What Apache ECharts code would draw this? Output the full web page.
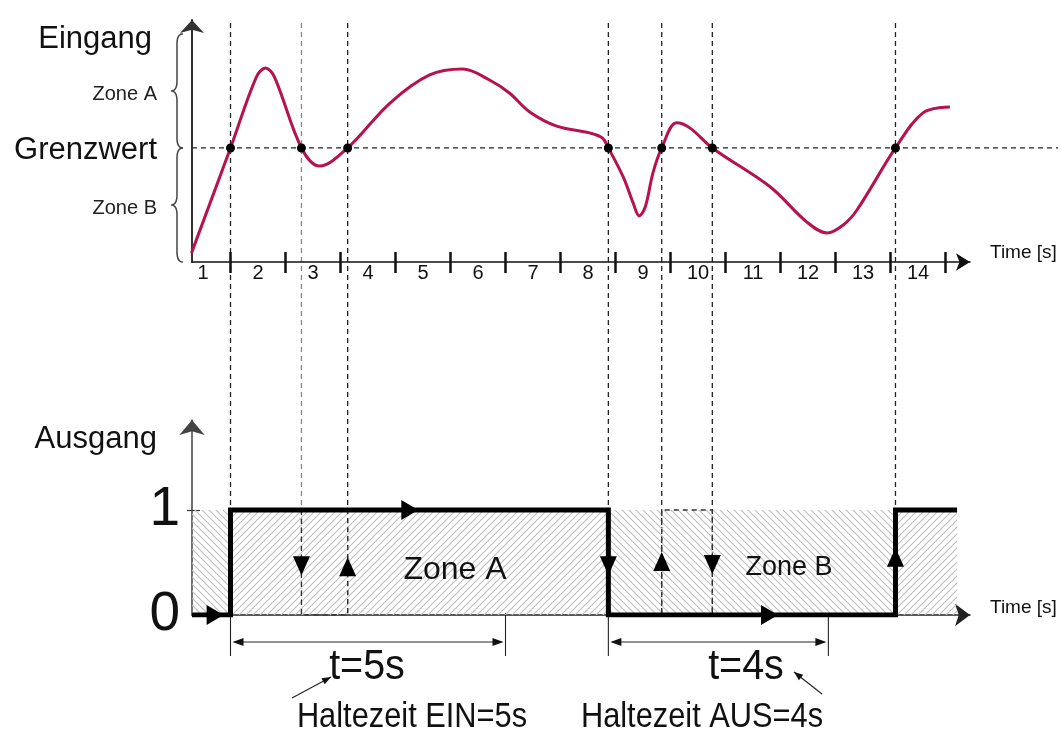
<!DOCTYPE html>
<html>
<head>
<meta charset="utf-8">
<script src="https://cdn.jsdelivr.net/npm/echarts@6/dist/echarts.min.js"></script>
<style>
  html, body { margin: 0; padding: 0; background: #fff; }
  #chart { width: 1061px; height: 733px; }
</style>
</head>
<body>
<div id="chart"></div>
<script>
var FONT = '"Liberation Sans", Arial, sans-serif';

// time axis: label n sits inside its second, ticks on the boundaries
var timeLabels = [1, 2, 3, 4, 5, 6, 7, 8, 9, 10, 11, 12, 13, 14];
var timeTicks = [1.5, 2.5, 3.5, 4.5, 5.5, 6.5, 7.5, 8.5, 9.5, 10.5, 11.5, 12.5, 13.5, 14.5];
var xMin = 0.8, xMax = 14.945;

// input (Eingang)
var inputMax = 10.61;
var threshold = 5;      // Grenzwert
var zoneTop = 10;
var inputCurve = [
  [0.79, 0.39], [1.5, 5], [1.97, 8.11], [2.14, 8.51], [2.3, 8.11], [2.79, 5],
  [3.12, 4.21], [3.63, 5], [4.4, 6.97], [5.12, 8.2], [5.72, 8.46], [6.21, 7.98],
  [6.57, 7.41], [6.94, 6.58], [7.43, 5.96], [8.03, 5.66], [8.26, 5.44], [8.37, 5],
  [8.64, 3.73], [8.82, 2.59], [8.93, 2.02], [9.04, 2.41], [9.18, 3.9], [9.34, 5],
  [9.61, 6.1], [9.85, 5.88], [10.26, 5], [11.31, 3.3], [11.98, 1.75], [12.35, 1.27],
  [12.64, 1.62], [12.89, 2.28], [13.59, 5], [14.09, 6.54], [14.58, 6.8]
];
var crossings = [1.5, 2.79, 3.63, 8.37, 9.34, 10.26, 13.59];

// output (Ausgang)
var outputMax = 1.857;
var outputStep = [[0.8, 0], [1.5, 0], [1.5, 1], [8.37, 1], [8.37, 0], [13.59, 0], [13.59, 1], [14.71, 1]];
var ignoredOff = [[2.79, 1], [2.79, 0], [3.63, 0], [3.63, 1]];
var ignoredOn = [[9.34, 0], [9.34, 1], [10.26, 1], [10.26, 0]];
var arrowsRight = [[1.22, 0], [4.76, 1], [11.3, 0]];
var arrowsDown = [[8.37, 0.47], [2.79, 0.47], [10.26, 0.48]];
var arrowsUp = [[13.59, 0.55], [3.63, 0.46], [9.34, 0.51]];
var holdOn = { from: 1.5, len: 5, label: 't=5s', note: 'Haltezeit EIN=5s' };
var holdOff = { from: 8.37, len: 4, label: 't=4s', note: 'Haltezeit AUS=4s' };

function hatch(dir) {
  var s = 7;
  var c = document.createElement('canvas');
  c.width = c.height = s;
  var g = c.getContext('2d');
  g.strokeStyle = '#c0c0c0';
  g.lineWidth = 1.2;
  g.beginPath();
  if (dir > 0) {
    g.moveTo(-1, s + 1); g.lineTo(s + 1, -1);
    g.moveTo(-1, 1); g.lineTo(1, -1);
    g.moveTo(s - 1, s + 1); g.lineTo(s + 1, s - 1);
  } else {
    g.moveTo(-1, -1); g.lineTo(s + 1, s + 1);
    g.moveTo(s - 1, -1); g.lineTo(s + 1, 1);
    g.moveTo(-1, s - 1); g.lineTo(1, s + 1);
  }
  g.stroke();
  return { image: c, repeat: 'repeat' };
}
var hatchOn = hatch(1), hatchOff = hatch(-1);

var hatchAreas = [];
for (var i = 0; i + 1 < outputStep.length; i++) {
  var a = outputStep[i], b = outputStep[i + 1];
  if (a[1] === b[1] && b[0] > a[0]) {
    hatchAreas.push([
      { xAxis: a[0], yAxis: 0, itemStyle: { color: a[1] ? hatchOn : hatchOff } },
      { xAxis: b[0], yAxis: 1 }
    ]);
  }
}

var chart = echarts.init(document.getElementById('chart'));

var option = {
  animation: false,
  grid: [
    { left: 192, right: 91, top: 20, bottom: 471, outerBoundsMode: 'none' },
    { left: 192, right: 91, top: 420, bottom: 118, outerBoundsMode: 'none' }
  ],
  xAxis: [
    {
      gridIndex: 0, type: 'value', position: 'bottom', min: xMin, max: xMax,
      axisLine: { symbol: ['none', 'arrow'], symbolSize: [13, 14], lineStyle: { color: '#111', width: 1.5 } },
      axisTick: { customValues: timeTicks, length: 11, lineStyle: { color: '#111', width: 2.5 } },
      axisLabel: { customValues: timeLabels, color: '#111', fontSize: 20, fontFamily: FONT, margin: 1 },
      splitLine: { show: false },
      name: 'Time [s]', nameLocation: 'end', nameGap: 20,
      nameTextStyle: { color: '#111', fontSize: 19, fontFamily: FONT, verticalAlign: 'bottom', padding: [0, 0, 0, 0] }
    },
    {
      gridIndex: 0, type: 'value', position: 'bottom', min: xMin, max: xMax,
      axisLine: { show: false },
      axisTick: { inside: true, customValues: timeTicks, length: 10, lineStyle: { color: '#111', width: 2.5 } },
      axisLabel: { show: false },
      splitLine: { show: false }
    },
    {
      gridIndex: 1, type: 'value', position: 'bottom', min: xMin, max: xMax,
      axisLine: { symbol: ['none', 'arrow'], symbolSize: [17, 15], lineStyle: { color: '#222', width: 1.5 } },
      axisTick: { show: false },
      axisLabel: { show: false },
      splitLine: { show: false },
      name: 'Time [s]', nameLocation: 'end', nameGap: 20,
      nameTextStyle: { color: '#111', fontSize: 19, fontFamily: FONT, verticalAlign: 'bottom', padding: [0, 0, -2, 0] }
    }
  ],
  yAxis: [
    {
      gridIndex: 0, type: 'value', position: 'left', min: 0, max: inputMax,
      axisLine: { symbol: ['none', 'arrow'], symbolSize: [18, 13], lineStyle: { color: '#333', width: 2 } },
      axisTick: { show: false },
      axisLabel: {
        customValues: [threshold / 2, threshold, (threshold + zoneTop) / 2],
        margin: 35,
        formatter: function (v) {
          if (v === threshold) return '{big|Grenzwert}';
          return '{small|' + (v > threshold ? 'Zone A' : 'Zone B') + '}';
        },
        rich: {
          big: { fontSize: 31, color: '#111', fontFamily: FONT, padding: [5, 0, 0, 0] },
          small: { fontSize: 20, color: '#222', fontFamily: FONT, padding: [8, 0, 0, 0] }
        }
      },
      splitLine: { show: false },
      name: 'Eingang', nameLocation: 'end', nameGap: -19,
      nameTextStyle: { color: '#111', fontSize: 31, fontFamily: FONT, align: 'right', verticalAlign: 'middle', padding: [0, 40, 0, 0] }
    },
    {
      gridIndex: 1, type: 'value', position: 'left', min: 0, max: outputMax,
      axisLine: { symbol: ['none', 'arrow'], symbolSize: [19, 15], lineStyle: { color: '#444', width: 1.5 } },
      axisTick: { customValues: [1], length: 5, lineStyle: { color: '#333', width: 1.2 } },
      axisLabel: { customValues: [0, 1], color: '#111', fontSize: 55, fontFamily: FONT, margin: 12, padding: [10, 0, 0, 0] },
      splitLine: { show: false },
      name: 'Ausgang', nameLocation: 'end', nameGap: -19,
      nameTextStyle: { color: '#111', fontSize: 31, fontFamily: FONT, align: 'right', verticalAlign: 'middle', padding: [0, 35, 0, 0] }
    },
    {
      gridIndex: 1, type: 'value', position: 'left', min: 0, max: outputMax,
      axisLine: { show: false },
      axisTick: { inside: true, customValues: [1], length: 8, lineStyle: { color: '#333', width: 1.2 } },
      axisLabel: { show: false },
      splitLine: { show: false }
    }
  ],
  series: [
    {
      name: 'Eingang', type: 'line', xAxisIndex: 0, yAxisIndex: 0,
      data: inputCurve, smooth: 0.35, showSymbol: false,
      lineStyle: { color: '#B5124F', width: 3 }, z: 3
    },
    {
      type: 'scatter', xAxisIndex: 0, yAxisIndex: 0,
      data: crossings.map(function (t) { return [t, threshold]; }),
      symbolSize: 9, itemStyle: { color: '#000', opacity: 1 }, z: 4
    },
    {
      name: 'Ausgang', type: 'line', xAxisIndex: 2, yAxisIndex: 1,
      data: outputStep, showSymbol: false,
      lineStyle: { color: '#000', width: 5, join: 'miter', cap: 'butt' },
      markArea: { silent: true, data: hatchAreas }, z: 3
    },
    {
      type: 'line', xAxisIndex: 2, yAxisIndex: 1, data: ignoredOff, showSymbol: false,
      lineStyle: { color: '#333', width: 1.3, type: [5, 4] }, z: 2
    },
    {
      type: 'line', xAxisIndex: 2, yAxisIndex: 1, data: ignoredOn, showSymbol: false,
      lineStyle: { color: '#333', width: 1.3, type: [5, 4] }, z: 2
    },
    {
      type: 'scatter', xAxisIndex: 2, yAxisIndex: 1, data: arrowsRight,
      symbol: 'triangle', symbolRotate: -90, symbolSize: [20, 17], itemStyle: { color: '#000', opacity: 1 }, z: 5
    },
    {
      type: 'scatter', xAxisIndex: 2, yAxisIndex: 1, data: arrowsDown,
      symbol: 'triangle', symbolRotate: 180, symbolSize: [17, 19], itemStyle: { color: '#000', opacity: 1 }, z: 5
    },
    {
      type: 'scatter', xAxisIndex: 2, yAxisIndex: 1, data: arrowsUp,
      symbol: 'triangle', symbolSize: [17, 19], itemStyle: { color: '#000', opacity: 1 }, z: 5
    }
  ]
};
chart.setOption(option);

// annotations placed through the axes' scales
function toPx(grid, p) { return chart.convertToPixel({ gridIndex: grid }, p); }

function arrowHead(x1, y1, x2, y2, len, w) {
  var dx = x2 - x1, dy = y2 - y1, d = Math.sqrt(dx * dx + dy * dy);
  var ux = dx / d, uy = dy / d;
  var bx = x2 - ux * len, by = y2 - uy * len;
  return [[x2, y2], [bx - uy * w / 2, by + ux * w / 2], [bx + uy * w / 2, by - ux * w / 2]];
}

var dash = { stroke: '#222', lineWidth: 1.3, lineDash: [5, 4] };
var thin = { stroke: '#222', lineWidth: 1.1 };
var els = [];

var thr = toPx(0, [xMin, threshold]);
els.push({ type: 'line', shape: { x1: thr[0], y1: thr[1], x2: 1058, y2: thr[1] }, style: dash });

crossings.forEach(function (t, k) {
  var top = toPx(0, [t, inputMax]);
  var bot = toPx(1, [t, 0]);
  var st = k === 1 ? { stroke: '#888', lineWidth: 1.3, lineDash: [5, 4] } : dash;
  els.push({ type: 'line', shape: { x1: top[0], y1: top[1] + 3, x2: bot[0], y2: bot[1] }, style: st });
});

// curly braces for the two zones
function quad(pts, x0, y0, cx, cy, x1, y1) {
  for (var k = 1; k <= 10; k++) {
    var t = k / 10, u = 1 - t;
    pts.push([u * u * x0 + 2 * u * t * cx + t * t * x1, u * u * y0 + 2 * u * t * cy + t * t * y1]);
  }
}
function brace(yTop, yBot, xb) {
  var ym = (yTop + yBot) / 2, r = 10, e = 6, pts = [[xb + e, yTop]];
  quad(pts, xb + e, yTop, xb, yTop, xb, yTop + r);
  pts.push([xb, ym - r]);
  quad(pts, xb, ym - r, xb, ym, xb - e, ym);
  quad(pts, xb - e, ym, xb, ym, xb, ym + r);
  pts.push([xb, yBot - r]);
  quad(pts, xb, yBot - r, xb, yBot, xb + e, yBot);
  return pts;
}
var y0 = toPx(0, [xMin, 0])[1], yT = thr[1], yZ = toPx(0, [xMin, zoneTop])[1];
[[yZ, yT], [yT, y0]].forEach(function (s) {
  els.push({ type: 'polyline', shape: { points: brace(s[0], s[1], 177) }, style: { stroke: '#444', lineWidth: 1.5, fill: null } });
});

// hold-time dimensions
[holdOn, holdOff].forEach(function (h) {
  var p1 = toPx(1, [h.from, 0]), p2 = toPx(1, [h.from + h.len, 0]);
  var yd = p1[1] + 27;
  els.push({ type: 'line', shape: { x1: p1[0], y1: p1[1], x2: p1[0], y2: p1[1] + 41 }, style: thin });
  els.push({ type: 'line', shape: { x1: p2[0], y1: p2[1] - 2, x2: p2[0], y2: p2[1] + 41 }, style: thin });
  els.push({ type: 'line', shape: { x1: p1[0] + 4, y1: yd, x2: p2[0] - 4, y2: yd }, style: thin });
  els.push({ type: 'polygon', shape: { points: arrowHead(p2[0], yd, p1[0] + 2, yd, 11, 8) }, style: { fill: '#111' } });
  els.push({ type: 'polygon', shape: { points: arrowHead(p1[0], yd, p2[0] - 2, yd, 11, 8) }, style: { fill: '#111' } });
});

function text(str, x, y, size, sx) {
  return { type: 'text', x: x, y: y, z: 10, scaleX: sx || 1,
    style: { text: str, fontSize: size, fontFamily: FONT, fill: '#111', align: 'center', verticalAlign: 'middle' } };
}
els.push(text('Zone A', 455, 570, 32));
els.push(text('Zone B', 789, 568, 27));
els.push(text(holdOn.label, 367, 667, 42, 0.94));
els.push(text(holdOff.label, 746, 667, 42, 0.94));
els.push(text(holdOn.note, 412, 717, 35, 0.88));
els.push(text(holdOff.note, 702, 717, 35, 0.88));

// pointers from the notes to the hold times
[[292, 698, 331, 677], [822, 694, 794, 672]].forEach(function (s) {
  els.push({ type: 'line', shape: { x1: s[0], y1: s[1], x2: s[2], y2: s[3] }, style: thin });
  els.push({ type: 'polygon', shape: { points: arrowHead(s[0], s[1], s[2], s[3], 9, 7) }, style: { fill: '#111' } });
});

chart.setOption({ graphic: { elements: els } });
</script>
</body>
</html>
